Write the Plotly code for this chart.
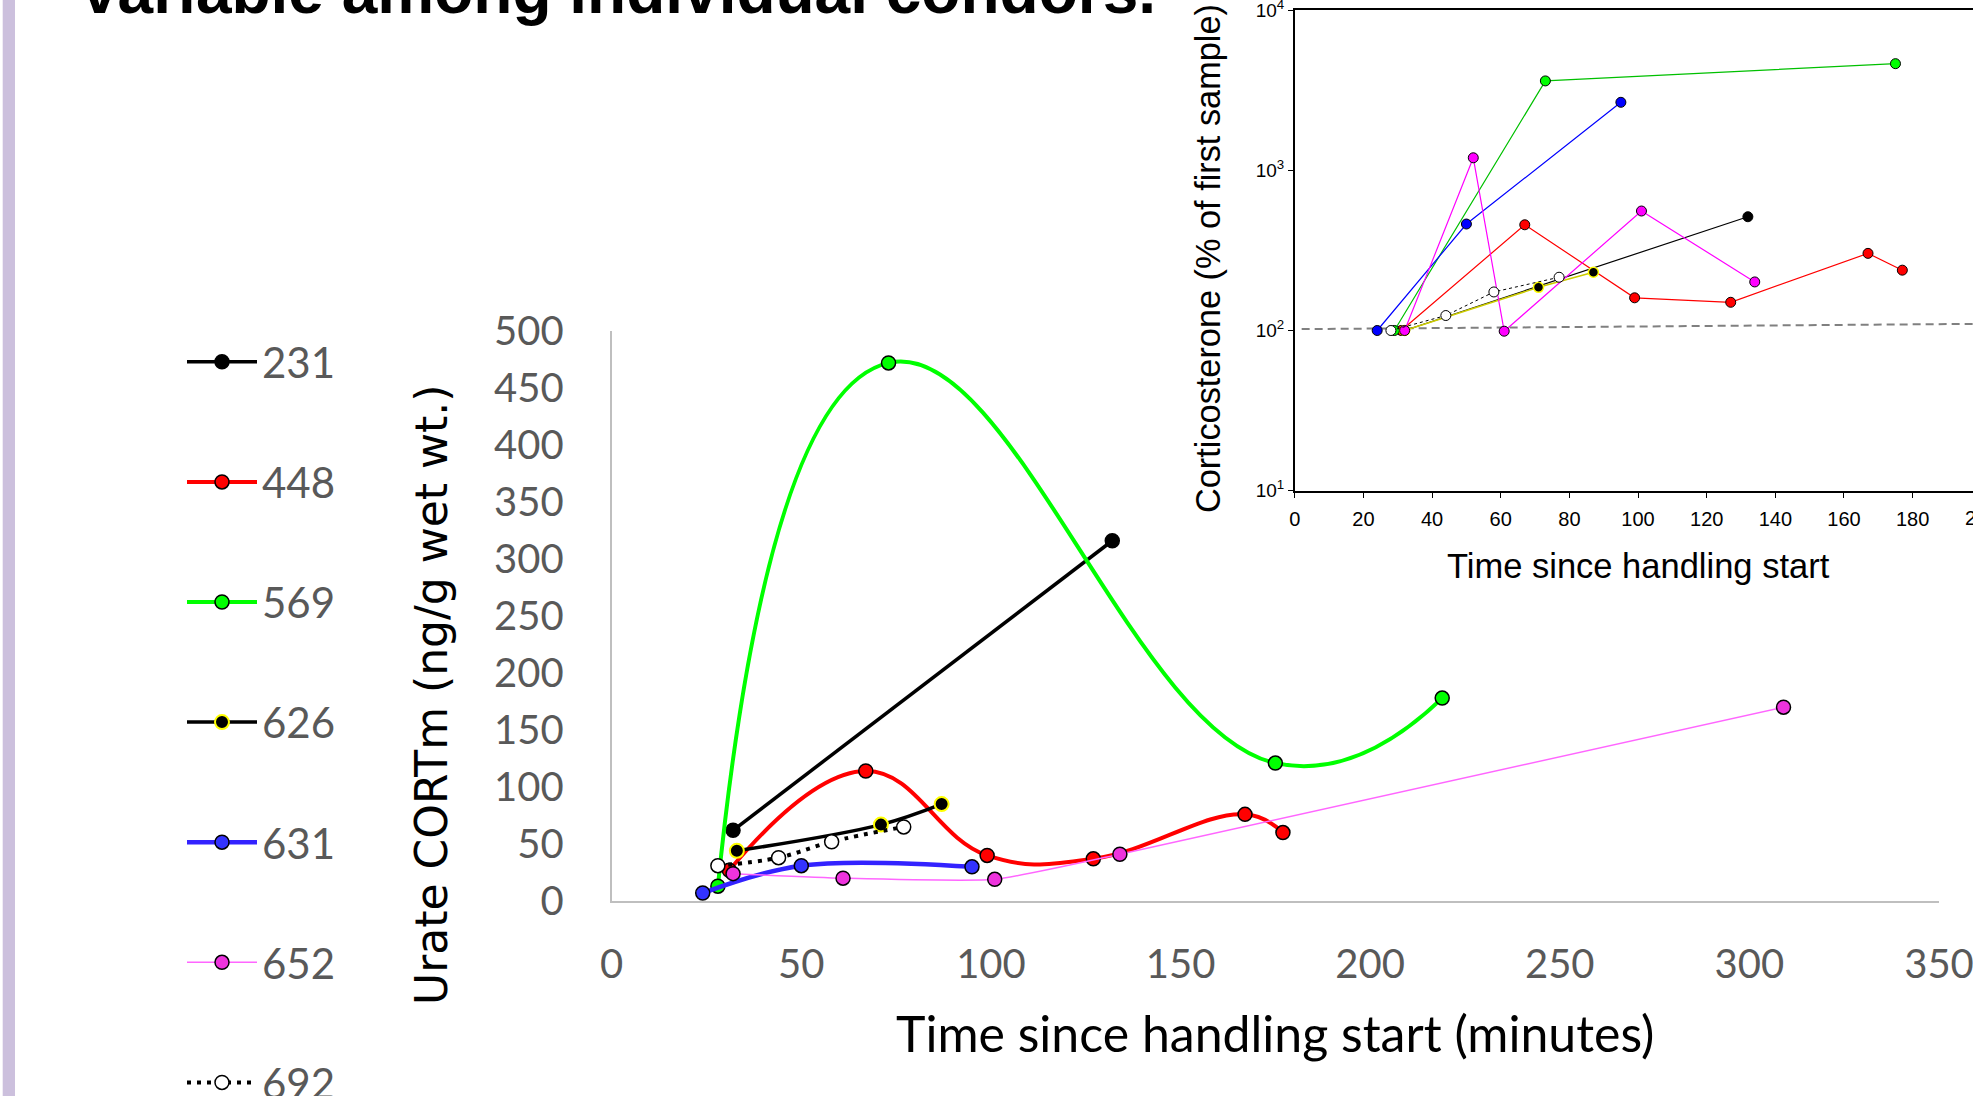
import plotly.graph_objects as go

W, H = 1973, 1096

# ---------------- data: main chart (Urate CORTm, ng/g wet wt.) ----------------
ids = ["231", "448", "569", "626", "631", "652", "692"]
x_231 = [32, 132]
y_231 = [62, 316]
x_448 = [31, 67, 99, 127, 167, 177]
y_448 = [27, 114, 40, 37, 76, 60]
x_569 = [28, 73, 175, 219]
y_569 = [13, 472, 121, 178]
x_626 = [33, 71, 87]
y_626 = [44, 67, 85]
x_631 = [24, 50, 95]
y_631 = [7, 31, 30]
x_652 = [32, 61, 101, 134, 309]
y_652 = [24, 20, 19, 41, 170]
x_692 = [28, 44, 58, 77]
y_692 = [31, 38, 52, 65]

# ---------------- data: inset (Corticosterone, % of first sample) ----------------
ix_231 = [32, 132]
iy_231 = [100, 513]
ix_448 = [31, 67, 99, 127, 167, 177]
iy_448 = [100, 457, 160, 150, 303, 238]
ix_569 = [29, 73, 175]
iy_569 = [100, 3614, 4630]
ix_626 = [32, 71, 87]
iy_626 = [100, 186, 231]
ix_631 = [24, 50, 95]
iy_631 = [100, 462, 2657]
ix_652 = [32, 52, 61, 101, 134]
iy_652 = [100, 1197, 99, 557, 201]
ix_692 = [28, 44, 58, 77]
iy_692 = [100, 124, 174, 215]
base_x = [2, 198]
base_y = [102, 110]

main_xticks = [0, 50, 100, 150, 200, 250, 300, 350]
main_yticks = [0, 50, 100, 150, 200, 250, 300, 350, 400, 450, 500]
inset_xticks = [0, 20, 40, 60, 80, 100, 120, 140, 160, 180]
inset_yticks = [10, 100, 1000, 10000]
inset_yticktext = ["10<sup>1</sup>", "10<sup>2</sup>", "10<sup>3</sup>", "10<sup>4</sup>"]

INSET_X0 = 1294.8          # pixel of inset x = 0
INSET_PX_PER_MIN = 3.4324  # inset x scale

def px(p):
    return p / W

def py(p):
    return 1 - p / H

fig = go.Figure()

# main traces
main_specs = [
    (x_231, y_231, dict(color="black", width=3.5), dict(color="black", line=dict(color="black", width=1.5)), "linear"),
    (x_448, y_448, dict(color="#FF0000", width=4), dict(color="#FF0000", line=dict(color="black", width=1.5)), "spline"),
    (x_569, y_569, dict(color="#00FF00", width=4), dict(color="#00FF00", line=dict(color="black", width=1.5)), "spline"),
    (x_626, y_626, dict(color="black", width=3.5), dict(color="black", line=dict(color="#FFFF00", width=2)), "spline"),
    (x_631, y_631, dict(color="#3322FF", width=4.5), dict(color="#3333FF", line=dict(color="black", width=1.5)), "spline"),
    (x_652, y_652, dict(color="#FF66FF", width=1.5), dict(color="#EE33DD", line=dict(color="black", width=1.5)), "spline"),
    (x_692, y_692, dict(color="black", width=4, dash="4px,6px"), dict(color="white", line=dict(color="black", width=1.5)), "spline"),
]
smooth = {"448": 1.2, "569": 1.3, "626": 1.0, "631": 1.0, "652": 0.5, "692": 1.0}
for name, (xs, ys, ln, mk, shape) in zip(ids, main_specs):
    ln = dict(ln)
    ln["shape"] = shape
    if shape == "spline":
        ln["smoothing"] = smooth[name]
    mk = dict(mk)
    mk["size"] = 14
    fig.add_trace(go.Scatter(x=xs, y=ys, mode="lines+markers", name=name,
                             legendgroup=name, line=ln, marker=mk,
                             xaxis="x", yaxis="y"))

# inset traces
fig.add_trace(go.Scatter(x=base_x, y=base_y, mode="lines", showlegend=False,
                         line=dict(color="#808080", width=2, dash="8px,5px"),
                         xaxis="x2", yaxis="y2"))
inset_specs = [
    (ix_231, iy_231, dict(color="black", width=1.2), dict(color="black", line=dict(color="black", width=1))),
    (ix_448, iy_448, dict(color="#FF0000", width=1.2), dict(color="#FF0000", line=dict(color="black", width=1))),
    (ix_569, iy_569, dict(color="#00C000", width=1.2), dict(color="#00FF00", line=dict(color="black", width=1))),
    (ix_626, iy_626, dict(color="#CCCC00", width=1.5), dict(color="black", line=dict(color="#FFFF00", width=1.5))),
    (ix_631, iy_631, dict(color="#0000FF", width=1.2), dict(color="#0000FF", line=dict(color="black", width=1))),
    (ix_652, iy_652, dict(color="#FF00FF", width=1.2), dict(color="#FF00FF", line=dict(color="black", width=1))),
    (ix_692, iy_692, dict(color="black", width=1, dash="dot"), dict(color="white", line=dict(color="black", width=1))),
]
for name, (xs, ys, ln, mk) in zip(ids, inset_specs):
    mk = dict(mk)
    mk["size"] = 10
    fig.add_trace(go.Scatter(x=xs, y=ys, mode="lines+markers", showlegend=False,
                             name=name, line=ln, marker=mk, xaxis="x2", yaxis="y2"))

lato_tick = dict(family="Lato", size=40, color="#595959")
arial = "Liberation Sans"

fig.update_layout(
    width=W, height=H, autosize=False,
    margin=dict(l=0, r=0, t=0, b=0, pad=0, autoexpand=False),
    paper_bgcolor="white", plot_bgcolor="rgba(0,0,0,0)",
    xaxis=dict(domain=[px(611.7), px(1939)], range=[0, 350], tickvals=main_xticks,
               showline=True, linecolor="#BFBFBF", linewidth=2, showgrid=False,
               zeroline=False, ticks="", tickfont=lato_tick, ticklabelstandoff=27,
               ticklabeloverflow="allow", anchor="y"),
    yaxis=dict(domain=[py(901), py(331)], range=[0, 500], tickvals=main_yticks,
               showline=True, linecolor="#BFBFBF", linewidth=2, showgrid=False,
               zeroline=False, ticks="", tickfont=lato_tick, ticklabelstandoff=38,
               ticklabeloverflow="allow", anchor="x"),
    xaxis2=dict(domain=[px(INSET_X0), 1.0], range=[0, (W - INSET_X0) / INSET_PX_PER_MIN],
                tickvals=inset_xticks,
                showline=True, linecolor="black", linewidth=1.5, mirror=True,
                showgrid=False, zeroline=False, ticks="outside", ticklen=6,
                tickcolor="black", tickwidth=1, ticklabelstandoff=4,
                ticklabeloverflow="allow",
                tickfont=dict(family=arial, size=20, color="black"), anchor="y2"),
    yaxis2=dict(domain=[py(490.7), py(10.1)], type="log", range=[1, 4],
                tickvals=inset_yticks, ticktext=inset_yticktext,
                showline=True, linecolor="black", linewidth=1.5, showgrid=False,
                zeroline=False, ticks="outside", ticklen=5, tickcolor="black",
                ticklabeloverflow="allow",
                tickfont=dict(family=arial, size=19, color="black"), anchor="x2"),
    legend=dict(x=px(182), xanchor="left", y=py(328), yanchor="top",
                font=dict(family="Lato", size=42, color="#595959"),
                itemwidth=70, tracegroupgap=62.5, bgcolor="rgba(0,0,0,0)",
                traceorder="grouped"),
    shapes=[dict(type="rect", xref="paper", yref="paper", x0=px(2.7), x1=px(15),
                 y0=0, y1=1, fillcolor="#CCC0DD", line=dict(width=0), layer="below")],
    annotations=[
        dict(text="<b>variable among individual condors.</b>", xref="paper", yref="paper",
             x=px(80), y=py(-9), xanchor="left", yanchor="middle", showarrow=False,
             font=dict(family=arial, size=64, color="black")),
        dict(text="Urate CORTm (ng/g wet wt.)", xref="paper", yref="paper",
             x=px(431), y=py(695), xanchor="center", yanchor="middle", textangle=-90,
             showarrow=False, font=dict(family="DejaVu Sans", size=44, color="black")),
        dict(text="Time since handling start (minutes)", xref="paper", yref="paper",
             x=px(1275), y=py(1033), xanchor="center", yanchor="middle",
             showarrow=False, font=dict(family="Lato", size=50, color="black")),
        dict(text="Corticosterone (% of first sample)", xref="paper", yref="paper",
             x=px(1208), y=py(259), xanchor="center", yanchor="middle", textangle=-90,
             showarrow=False, font=dict(family=arial, size=34.3, color="black")),
        dict(text="Time since handling start", xref="paper", yref="paper",
             x=px(1638), y=py(566), xanchor="center", yanchor="middle",
             showarrow=False, font=dict(family=arial, size=34.5, color="black")),
        dict(text="200", xref="paper", yref="paper",
             x=px(INSET_X0 + 200 * INSET_PX_PER_MIN), y=py(518),
             xanchor="center", yanchor="middle", showarrow=False,
             font=dict(family=arial, size=20, color="black")),
    ],
)

fig.write_html("out.html")
